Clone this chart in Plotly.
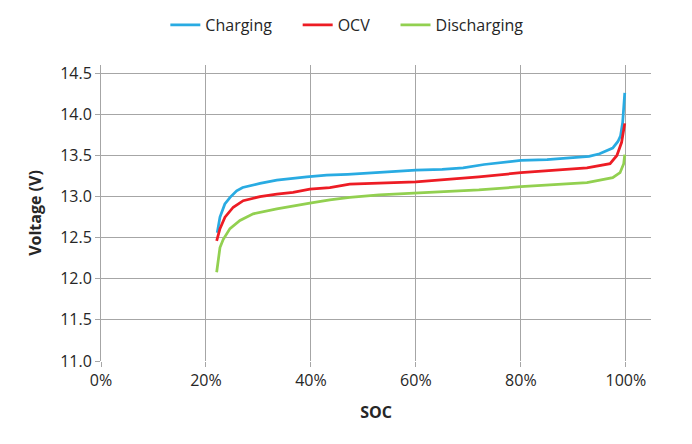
import plotly.graph_objects as go

# SOC (fraction) and voltage readings for each series
soc_charge = [0.2215, 0.2267, 0.236, 0.246, 0.2585, 0.27, 0.303, 0.335, 0.392, 0.43, 0.47, 0.52, 0.56,
              0.60, 0.65, 0.69, 0.73, 0.77, 0.80, 0.85, 0.90, 0.93, 0.95, 0.975, 0.985, 0.99, 0.994, 0.998]
v_charge = [12.56, 12.75, 12.91, 12.99, 13.07, 13.11, 13.16, 13.20, 13.24, 13.26, 13.27, 13.29, 13.30,
            13.32, 13.33, 13.35, 13.39, 13.42, 13.44, 13.45, 13.47, 13.49, 13.52, 13.59, 13.67, 13.74, 13.90, 14.26]

soc_ocv = [0.2204, 0.2267, 0.2362, 0.252, 0.271, 0.303, 0.335, 0.366, 0.398, 0.436, 0.474, 0.53, 0.60,
           0.66, 0.72, 0.80, 0.87, 0.926, 0.97, 0.983, 0.992, 0.998]
v_ocv = [12.46, 12.61, 12.75, 12.87, 12.95, 13.00, 13.03, 13.05, 13.09, 13.11, 13.15, 13.16, 13.18,
         13.21, 13.24, 13.29, 13.32, 13.35, 13.40, 13.50, 13.66, 13.89]

soc_dis = [0.2204, 0.2234, 0.2267, 0.233, 0.2457, 0.2648, 0.290, 0.335, 0.366, 0.398, 0.436, 0.474, 0.53,
           0.60, 0.66, 0.72, 0.80, 0.87, 0.926, 0.975, 0.989, 0.996, 0.998]
v_dis = [12.08, 12.26, 12.38, 12.48, 12.61, 12.71, 12.79, 12.85, 12.88, 12.92, 12.96, 12.99, 13.02,
         13.04, 13.06, 13.08, 13.12, 13.15, 13.17, 13.23, 13.29, 13.40, 13.51]

x_ticks = [0, 0.2, 0.4, 0.6, 0.8, 1.0]
x_tick_labels = ["0%", "20%", "40%", "60%", "80%", "100%"]
y_ticks = [11.0, 11.5, 12.0, 12.5, 13.0, 13.5, 14.0, 14.5]
y_tick_labels = ["11.0", "11.5", "12.0", "12.5", "13.0", "13.5", "14.0", "14.5"]
series_names = ["Charging", "OCV", "Discharging"]

FONT = "Open Sans"
GRID = "#A6A6A6"
TXT = "#262626"
NB = "\u00a0" * 5

fig = go.Figure()
fig.add_trace(go.Scatter(x=soc_charge, y=v_charge, mode="lines", name=series_names[0] + NB,
                         line=dict(color="#29ABE2", width=2.75)))
fig.add_trace(go.Scatter(x=soc_ocv, y=v_ocv, mode="lines", name=series_names[1] + NB,
                         line=dict(color="#ED1C24", width=2.75)))
fig.add_trace(go.Scatter(x=soc_dis, y=v_dis, mode="lines", name=series_names[2],
                         line=dict(color="#92D050", width=2.75)))

fig.update_layout(
    width=692, height=444,
    margin=dict(l=101, r=41, t=65, b=83, autoexpand=False),
    paper_bgcolor="white", plot_bgcolor="white",
    font=dict(family=FONT, size=16, color=TXT),
    showlegend=True,
    legend=dict(orientation="h", x=0.447, xanchor="center", y=1.135, yanchor="middle",
                font=dict(family=FONT, size=16, color=TXT), itemwidth=30,
                traceorder="normal"),
)
fig.update_xaxes(
    range=[0, 1.048], tickvals=x_ticks, ticktext=x_tick_labels,
    showgrid=True, gridcolor=GRID, gridwidth=1,
    showline=False, zeroline=False, automargin=False,
    ticks="outside", ticklen=5, tickcolor=GRID,
    tickfont=dict(family=FONT, size=16, color=TXT),
    title=dict(text="<b>SOC</b>", font=dict(family=FONT, size=16, color=TXT), standoff=16),
)
fig.update_yaxes(
    range=[11.0, 14.6], tickvals=y_ticks, ticktext=y_tick_labels,
    showgrid=True, gridcolor=GRID, gridwidth=1,
    showline=True, linecolor=GRID, linewidth=1, zeroline=False, automargin=False,
    ticks="outside", ticklen=5, tickcolor=GRID,
    tickfont=dict(family=FONT, size=16, color=TXT),
    title=dict(text="<b>Voltage (V)</b>", font=dict(family=FONT, size=16, color=TXT), standoff=14),
)

fig.write_html("out.html", config={"displayModeBar": False},
               post_script="document.body.style.margin='0';")
